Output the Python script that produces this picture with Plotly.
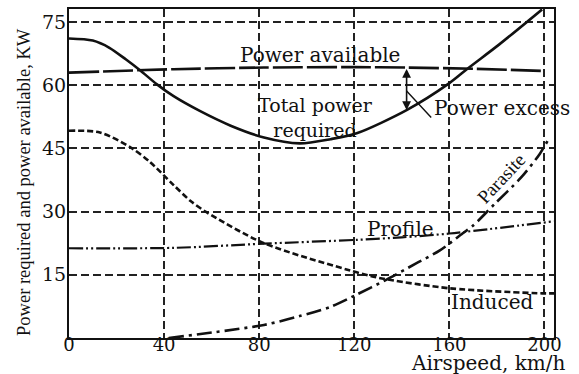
import numpy as np
import plotly.graph_objects as go

# Airspeed (km/h) and power (kW) readings for each curve
speed_total = [0, 10, 17, 24, 30, 37, 44, 55, 68, 82, 97, 110, 121, 142, 160, 168, 181, 199]
power_total = [71.1, 70.6, 68.9, 66.1, 63.5, 60.2, 57.4, 53.9, 50.4, 47.6, 46.2, 47.2, 48.6, 54.1, 60.5, 64.1, 69.7, 78.0]

speed_avail = [0, 44, 82, 120, 142, 170, 199]
power_avail = [63.0, 63.8, 64.2, 64.3, 64.2, 63.9, 63.4]

speed_induced = [0, 13, 26, 34, 44, 51, 58, 82, 121, 131, 160, 199, 204]
power_induced = [49.2, 48.8, 45.2, 41.8, 36.3, 32.6, 29.8, 22.5, 15.6, 14.2, 11.8, 10.6, 10.6]

speed_profile = [0, 44, 82, 121, 140, 160, 204]
power_profile = [21.3, 21.4, 22.4, 23.3, 23.9, 24.8, 27.7]

speed_parasite = [42, 82, 97, 110, 121, 133, 146, 156, 165.5, 170, 179, 190, 198, 202]
power_parasite = [0, 3.1, 5.2, 7.4, 10.3, 13.7, 17.7, 20.8, 24.8, 26.7, 31.8, 38.0, 43.7, 47.5]

x_ticks = [0, 40, 80, 120, 160, 200]
y_ticks = [0, 15, 30, 45, 60, 75]
y_tick_text = ["", "15", "30", "45", "60", "75"]

# Airspeed at which the power excess is marked
excess_speed = 142

SERIF_WIDE = "DejaVu Serif"
SERIF = "Liberation Serif"
INK = "#111111"

fig = go.Figure()


def curve(x, y, dash, width=2.6):
    fig.add_trace(go.Scatter(
        x=x, y=y, mode="lines",
        line=dict(color=INK, width=width, dash=dash, shape="spline", smoothing=0.8),
        showlegend=False, hoverinfo="skip",
    ))


curve(speed_avail, power_avail, "30px,4px")
curve(speed_total, power_total, "solid")
curve(speed_induced, power_induced, "6px,3px")
curve(speed_profile, power_profile, "14px,3px,2px,3px,2px,3px", width=2.2)
curve(speed_parasite, power_parasite, "15px,5px,3px,5px")

# Power excess: vertical double arrow between the two curves
p_av = float(np.interp(excess_speed, speed_avail, power_avail))
p_req = float(np.interp(excess_speed, speed_total, power_total))
p_mid = p_req + 0.45 * (p_av - p_req)

annotations = [
    dict(x=excess_speed, y=p_req, ax=excess_speed, ay=p_av, axref="x", ayref="y",
         text="", showarrow=True, arrowhead=2, startarrowhead=2, arrowside="end+start",
         arrowsize=1.1, startarrowsize=1.1, arrowwidth=1.6, arrowcolor=INK, standoff=0,
         startstandoff=0),
    dict(x=excess_speed, y=p_mid, ax=26, ay=28, text="", showarrow=True,
         arrowhead=0, arrowwidth=1.4, arrowcolor=INK),
]


def label(text, x, y, size=20, family=SERIF_WIDE, angle=0, xanchor="center"):
    annotations.append(dict(
        x=x, y=y, xref="x", yref="y", text=text, showarrow=False,
        font=dict(family=family, size=size, color=INK),
        textangle=angle, xanchor=xanchor, yanchor="middle",
    ))


label("Power available", 105.5, 67.1)
label("Total power<br>required", 103.8, 52.3, size=19)
label("Power excess", 152.5, 54.6, xanchor="left")
label("Profile", 139.5, 25.8)
label("Induced", 178.2, 8.5)
label("Parasite", 181.7, 37.9, size=19, family=SERIF, angle=-47)

# Axis titles
annotations.append(dict(
    x=1.027, y=-0.076, xref="paper", yref="paper", text="Airspeed, km/h",
    showarrow=False, xanchor="right", yanchor="middle",
    font=dict(family=SERIF_WIDE, size=20, color=INK),
))
annotations.append(dict(
    x=-0.093, y=0.474, xref="paper", yref="paper",
    text="Power required and power available, KW",
    showarrow=False, textangle=-90, xanchor="center", yanchor="middle",
    font=dict(family=SERIF, size=18.5, color=INK),
))

grid = dict(showgrid=True, gridcolor="#222222", gridwidth=1.5, griddash="8px,4px",
            showline=True, linecolor=INK, linewidth=2, mirror=True,
            zeroline=False, ticks="")

fig.update_layout(
    width=579, height=374,
    margin=dict(l=69, r=25, t=7, b=36),
    paper_bgcolor="white", plot_bgcolor="white",
    xaxis=dict(range=[0, 204], tickvals=x_ticks, ticklabelstandoff=-11,
               tickfont=dict(family=SERIF_WIDE, size=18, color=INK), **grid),
    yaxis=dict(range=[0, 78.1], tickvals=y_ticks, ticktext=y_tick_text,
               ticklabelstandoff=-3,
               tickfont=dict(family=SERIF_WIDE, size=19, color=INK), **grid),
    annotations=annotations,
)

fig.write_html("out.html")
